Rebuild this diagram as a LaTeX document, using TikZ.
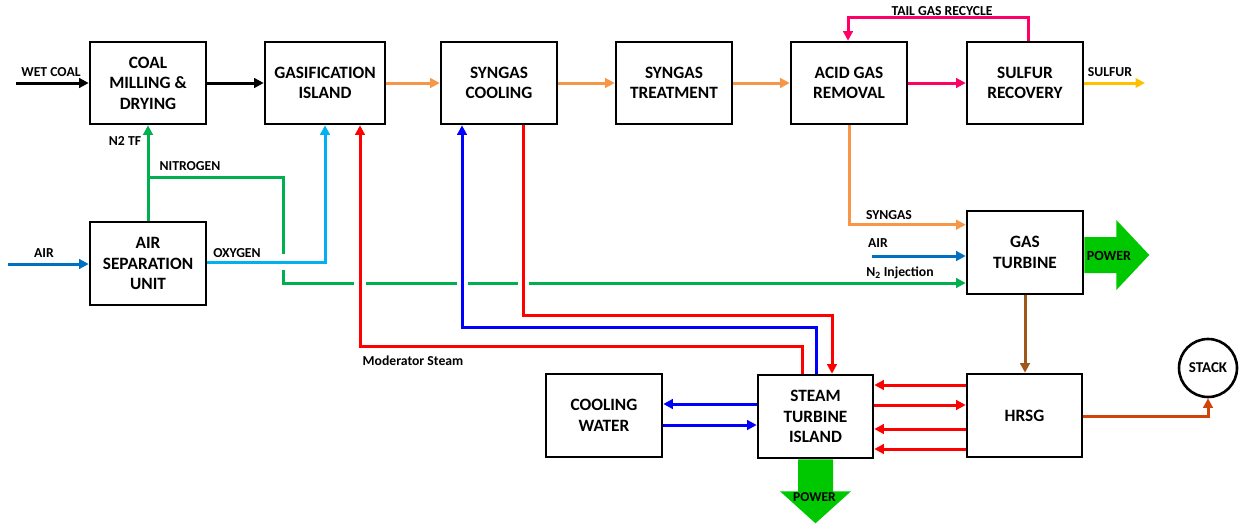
\documentclass[tikz,border=0pt]{standalone}
\usepackage{fontspec}
\setmainfont{Carlito}
\usetikzlibrary{arrows.meta,calc}
\definecolor{cor}{HTML}{F79646}
\definecolor{cpink}{HTML}{FF0066}
\definecolor{cyel}{HTML}{FFC000}
\definecolor{cair}{HTML}{0070C0}
\definecolor{coxy}{HTML}{00B0F0}
\definecolor{cgrn}{HTML}{00B050}
\definecolor{cred}{HTML}{FF0000}
\definecolor{cblu}{HTML}{0000FF}
\definecolor{cbrn}{RGB}{158,88,28}
\definecolor{cstk}{RGB}{208,68,10}
\definecolor{cpow}{HTML}{00C800}
\begin{document}
\begin{tikzpicture}[x=1pt,y=-1pt,
  box/.style={draw,line width=2.6pt,minimum width=116pt,minimum height=82pt,inner sep=0pt,align=center,font=\fontsize{17.3}{20.6}\selectfont\bfseries},
  lbl/.style={font=\fontsize{13.7}{15}\selectfont\bfseries,inner sep=0pt},
  powlbl/.style={font=\fontsize{14}{16}\selectfont\bfseries,inner sep=0pt},
  flow/.style={line width=3pt,-{Triangle[length=9.5pt,width=9.5pt]}},
  pipe/.style={line width=3pt},
]
\useasboundingbox (0,0) rectangle (1239,523);
% boxes
\node[box] (coal) at (148,83) {COAL\\MILLING \&\\DRYING};
\node[box,minimum width=120pt] (gas) at (325,83) {GASIFICATION\\ISLAND};
\node[box] (cool) at (499,83) {SYNGAS\\COOLING};
\node[box] (treat) at (674,83) {SYNGAS\\TREATMENT};
\node[box] (agr) at (849,83) {ACID GAS\\REMOVAL};
\node[box] (sulf) at (1025,83) {SULFUR\\RECOVERY};
\node[box,minimum height=83pt] (asu) at (148,263.5) {AIR\\SEPARATION\\UNIT};
\node[box,minimum height=83pt] (gt) at (1025,252.5) {GAS\\TURBINE};
\node[box,minimum height=83pt] (cw) at (604,415.5) {COOLING\\WATER};
\node[box,minimum width=115pt,minimum height=83pt] (sti) at (815.5,416.5) {STEAM\\TURBINE\\ISLAND};
\node[box,minimum width=115pt,minimum height=83pt] (hrsg) at (1024.5,415.5) {HRSG};
\node[circle,draw,line width=2.6pt,minimum size=58pt,inner sep=0pt,font=\fontsize{15}{16}\selectfont\bfseries] (stack) at (1208,368) {STACK};

% top line
\coordinate (wc) at (16,83);
\draw[flow,black] (wc) -- (coal.west);
\node[lbl] (wcl) at (51,72) {WET COAL};
\draw[flow,black] (coal.east) -- (gas.west);
\draw[flow,cor] (gas.east) -- (cool.west);
\draw[flow,cor] (cool.east) -- (treat.west);
\draw[flow,cor] (treat.east) -- (agr.west);
\draw[flow,cpink] (agr.east) -- (sulf.west);
\draw[flow,cpink] ([xshift=3pt]sulf.north) -- ++(0,-23) -| ([xshift=-1pt]agr.north);
\node[lbl] (tgl) at (942,11) {TAIL GAS RECYCLE};
\coordinate (sulfend) at (1145,83);
\draw[flow,cyel] (sulf.east) -- (sulfend);
\node[lbl] (sul) at (1110,72) {SULFUR};

% syngas to GT
\draw[flow,cor] (agr.south) |- ($(gt.north west)+(0,15)$);
\node[lbl] (sgl) at (889,215) {SYNGAS};
\coordinate (gtair) at (872,256);
\draw[flow,cair] (gtair) -- (gtair -| gt.west);
\node[lbl] (gal) at (878,243) {AIR};
\node[lbl] (n2l) at (900,273) {N\textsubscript{2} Injection};

% power GT
\coordinate (gtp) at ($(gt.east)+(0,2.5)$);
\fill[cpow] ($(gtp)+(0,-18)$) -- ++(32,0) -- ++(0,-17) -- ($(gtp)+(65,0)$) -- ($(gtp)+(32,35)$) -- ++(0,-17) -- ($(gtp)+(0,18)$) -- cycle;
\node[powlbl] (gpl) at (1109,256) {POWER};

% ASU
\coordinate (asuair) at (8,264);
\draw[flow,cair] (asuair) -- (asuair -| asu.west);
\node[lbl] (aal) at (44,253) {AIR};
\draw[flow,cgrn] (asu.north) -- (coal.south);
\node[lbl] (n2tf) at (125,141) {N2 TF};
\coordinate (nb) at (148,177);
\coordinate (nc) at (283,177);
\coordinate (ng1) at (283,254);
\coordinate (ng2) at (283,270);
\coordinate (ng3) at (283,283);
\coordinate (ng4) at (354,283);
\coordinate (ng5) at (366,283);
\coordinate (ng6) at (457,283);
\coordinate (ng7) at (468,283);
\coordinate (ng8) at (518,283);
\coordinate (ng9) at (529,283);
\draw[pipe,cgrn] (nb) -- (nc) -- (ng1);
\draw[pipe,cgrn] (ng2) -- (ng3) -- (ng4);
\draw[pipe,cgrn] (ng5) -- (ng6);
\draw[pipe,cgrn] (ng7) -- (ng8);
\draw[flow,cgrn] (ng9) -- (ng9 -| gt.west);
\node[lbl] (nil) at (190,166) {NITROGEN};
\draw[flow,coxy] ($(asu.east)+(0,-1.5)$) -| (gas.south);
\node[lbl] (oxl) at (237,253) {OXYGEN};

% steam lines
\draw[flow,cred] ([xshift=-13.5pt]sti.north) -- ++(0,-27) -| ([xshift=35pt]gas.south);
\node[lbl] (msl) at (413,361) {Moderator Steam};
\draw[flow,cblu] ([xshift=0.5pt]sti.north) -- ++(0,-46) -| ([xshift=-37pt]cool.south);
\draw[flow,cred] ([xshift=24pt]cool.south) -- ++(0,190) -| ([xshift=16.5pt]sti.north);

% STI - CW
\coordinate (s1) at ($(sti.west)+(0,-12.5)$);
\coordinate (s2) at ($(sti.west)+(0,8.5)$);
\draw[flow,cblu] (s1) -- (s1 -| cw.east);
\draw[flow,cblu] (s2 -| cw.east) -- (s2);

% HRSG - STI
\coordinate (h1) at ($(hrsg.west)+(0,-30.5)$);
\coordinate (h2) at ($(hrsg.west)+(0,-10.5)$);
\coordinate (h3) at ($(hrsg.west)+(0,13.5)$);
\coordinate (h4) at ($(hrsg.west)+(0,33.5)$);
\draw[flow,cred] (h1) -- (h1 -| sti.east);
\draw[flow,cred] (h2 -| sti.east) -- (h2);
\draw[flow,cred] (h3) -- (h3 -| sti.east);
\draw[flow,cred] (h4) -- (h4 -| sti.east);

% GT - HRSG - stack
\draw[flow,cbrn] (gt.south) -- (gt.south |- hrsg.north);
\draw[flow,cstk] ($(hrsg.east)+(0,0.5)$) -| (stack.south);

% power STI
\coordinate (sp) at (sti.south);
\fill[cpow] ($(sp)+(-17.5,0)$) -- ++(0,32) -- ++(-18,0) -- ($(sp)+(0,64)$) -- ($(sp)+(35.5,32)$) -- ++(-18,0) -- ($(sp)+(17.5,0)$) -- cycle;
\node[powlbl,font=\fontsize{13.5}{15}\selectfont\bfseries] (spl) at (814.5,497.5) {POWER};
\end{tikzpicture}
\end{document}
